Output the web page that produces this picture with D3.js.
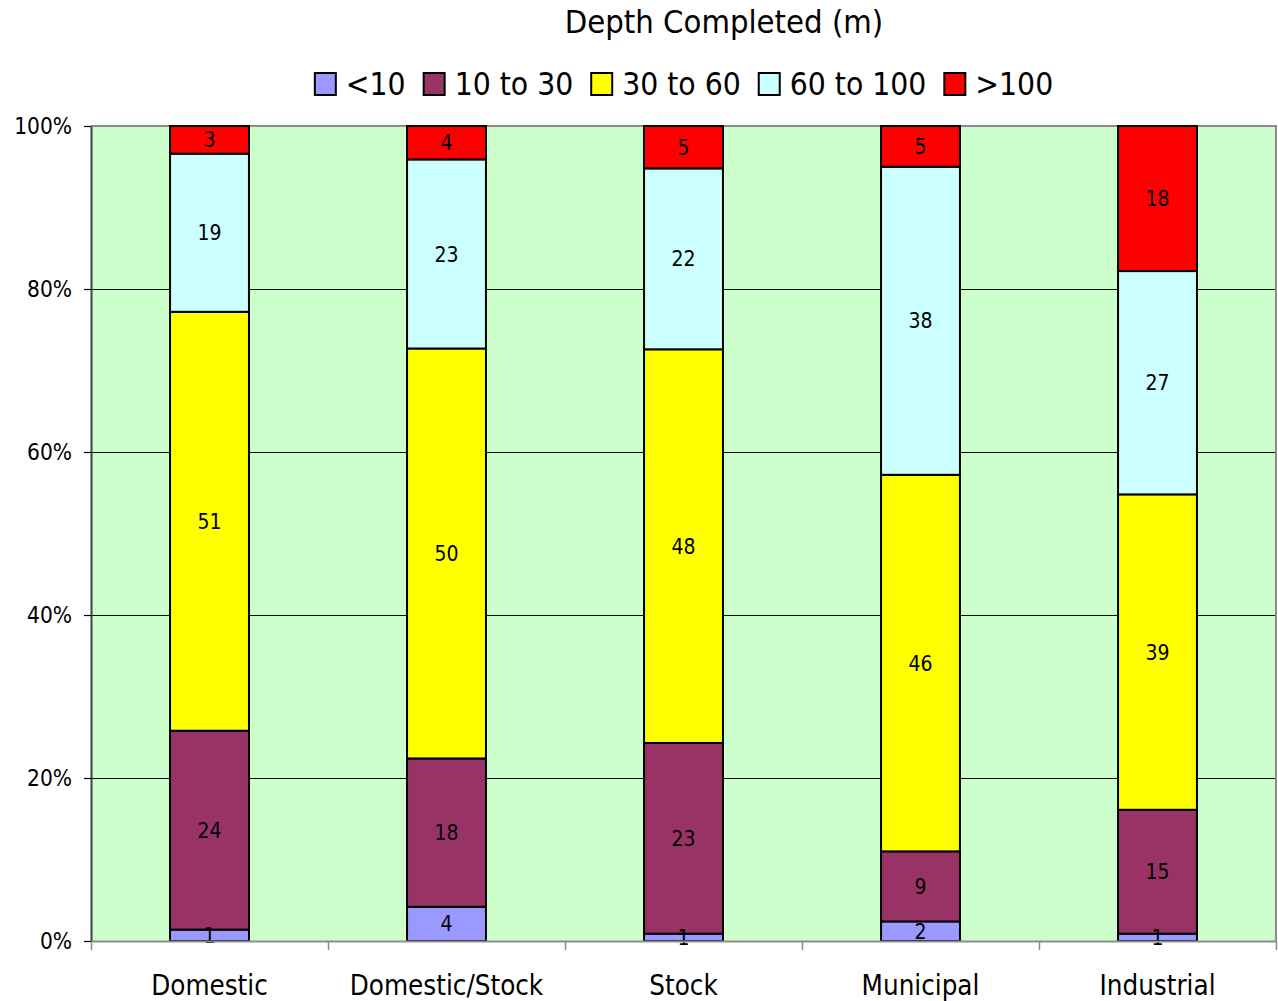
<!DOCTYPE html>
<html>
<head>
<meta charset="utf-8">
<script src="https://cdn.jsdelivr.net/npm/d3@7"></script>
<style>
  html, body { margin: 0; padding: 0; background: #ffffff; }
  svg { display: block; }
  text { font-family: "DejaVu Sans Condensed", "DejaVu Sans", sans-serif; font-stretch: condensed; fill: #000; }
</style>
</head>
<body>
<svg id="chart" width="1278" height="1001"></svg>
<script>
// ---- data ----
const categories = ["Domestic", "Domestic/Stock", "Stock", "Municipal", "Industrial"];
const seriesNames = ["<10", "10 to 30", "30 to 60", "60 to 100", ">100"];
const lt10     = [1.4, 4.2, 0.9, 2.4, 0.9];
const d10to30  = [24.4, 18.2, 23.4, 8.6, 15.2];
const d30to60  = [51.4, 50.3, 48.3, 46.2, 38.7];
const d60to100 = [19.4, 23.2, 22.2, 37.8, 27.4];
const gt100    = [3.4, 4.1, 5.2, 5.0, 17.8];
const yTickValues = [0, 20, 40, 60, 80, 100];
const chartTitle = "Depth Completed (m)";

const seriesValues = [lt10, d10to30, d30to60, d60to100, gt100];
const colors = ["#9999FF", "#993366", "#FFFF00", "#CCFFFF", "#FF0000"];

const rows = categories.map((c, i) => {
  const r = { category: c };
  seriesNames.forEach((s, j) => { r[s] = seriesValues[j][i]; });
  return r;
});

const svg = d3.select("#chart");
const plot = { left: 91, right: 1276, top: 126, bottom: 941 };

const x = d3.scaleBand().domain(categories).range([plot.left, plot.right])
  .paddingInner(0.667).paddingOuter(0.3335);
const xBand = d3.scaleBand().domain(categories).range([plot.left, plot.right]).padding(0);
const y = d3.scaleLinear().domain([0, 100]).range([plot.bottom, plot.top]);
const color = d3.scaleOrdinal().domain(seriesNames).range(colors);

// plot background
svg.append("rect")
  .attr("x", plot.left).attr("y", plot.top)
  .attr("width", plot.right - plot.left).attr("height", plot.bottom - plot.top)
  .attr("fill", "#CCFFCC");

// gridlines
svg.append("g")
  .selectAll("line")
  .data(yTickValues.filter(v => v > 0 && v < 100))
  .join("line")
  .attr("x1", plot.left).attr("x2", plot.right)
  .attr("y1", d => Math.round(y(d)) + 0.5).attr("y2", d => Math.round(y(d)) + 0.5)
  .attr("stroke", "#000").attr("stroke-width", 1);

// plot border top/right
svg.append("path")
  .attr("d", `M${plot.left},${plot.top} H${plot.right} V${plot.bottom}`)
  .attr("fill", "none").attr("stroke", "#8c8c8c").attr("stroke-width", 2);

// stacked bars
const stack = d3.stack().keys(seriesNames);
const stacked = stack(rows);

const layers = svg.append("g").selectAll("g")
  .data(stacked).join("g")
  .attr("fill", d => color(d.key));

layers.selectAll("rect")
  .data(d => d.map(p => ({ p, key: d.key })))
  .join("rect")
  .attr("x", d => x(d.p.data.category))
  .attr("width", x.bandwidth())
  .attr("y", d => y(d.p[1]))
  .attr("height", d => y(d.p[0]) - y(d.p[1]))
  .attr("stroke", "#000")
  .attr("stroke-width", 2);

// value labels
const labels = svg.append("g");
stacked.forEach(layer => {
  layer.forEach(p => {
    const v = p[1] - p[0];
    labels.append("text")
      .attr("x", x(p.data.category) + x.bandwidth() / 2)
      .attr("y", (y(p[0]) + y(p[1])) / 2)
      .attr("dy", "0.36em")
      .attr("text-anchor", "middle")
      .attr("font-size", 21)
      .text(d3.format(".0f")(v));
  });
});

// y axis
const yAxis = d3.axisLeft(y).tickValues(yTickValues).tickFormat(d => d + "%")
  .tickSizeInner(7).tickSizeOuter(0).tickPadding(12);
const gy = svg.append("g").attr("transform", `translate(${plot.left},0)`).call(yAxis);
gy.select(".domain").attr("stroke", "#404040").attr("stroke-width", 2);
gy.selectAll(".tick line").attr("stroke", "#000").attr("stroke-width", 1.2);
gy.selectAll(".tick text").attr("font-size", 22.5).attr("font-family", null).attr("fill", "#000");

// x axis
const xAxis = d3.axisBottom(xBand).tickSize(0).tickSizeOuter(0).tickPadding(34);
const gx = svg.append("g").attr("transform", `translate(0,${plot.bottom})`).call(xAxis);
gx.select(".domain").attr("stroke", "#8c8c8c").attr("stroke-width", 2);
gx.selectAll(".tick text").attr("font-size", 27.5).attr("font-family", null).attr("fill", "#000");
// boundary ticks between categories
const boundaries = categories.map(c => xBand(c)).concat([xBand(categories[categories.length - 1]) + xBand.bandwidth()]);
gx.append("g").selectAll("line").data(boundaries).join("line")
  .attr("x1", d => Math.round(d) + 0.5).attr("x2", d => Math.round(d) + 0.5)
  .attr("y1", 0).attr("y2", 9)
  .attr("stroke", "#8c8c8c").attr("stroke-width", 1.5);

// title
svg.append("text")
  .attr("x", 724).attr("y", 33)
  .attr("text-anchor", "middle")
  .attr("font-size", 32.5)
  .text(chartTitle);

// legend
const legend = svg.append("g");
const items = [];
let cx = 0;
seriesNames.forEach((s, i) => {
  const g = legend.append("g");
  g.append("rect").attr("x", 0).attr("y", 0).attr("width", 21).attr("height", 22)
    .attr("fill", color(s)).attr("stroke", "#000").attr("stroke-width", 2);
  const t = g.append("text").attr("x", 31).attr("y", 22).attr("font-size", 31.5).text(s);
  const w = t.node().getComputedTextLength();
  items.push({ g, off: cx });
  cx += 31 + w + 18;
});
const total = cx - 18;
const startX = 684 - total / 2;
items.forEach(it => it.g.attr("transform", `translate(${startX + it.off},73)`));
</script>
</body>
</html>
